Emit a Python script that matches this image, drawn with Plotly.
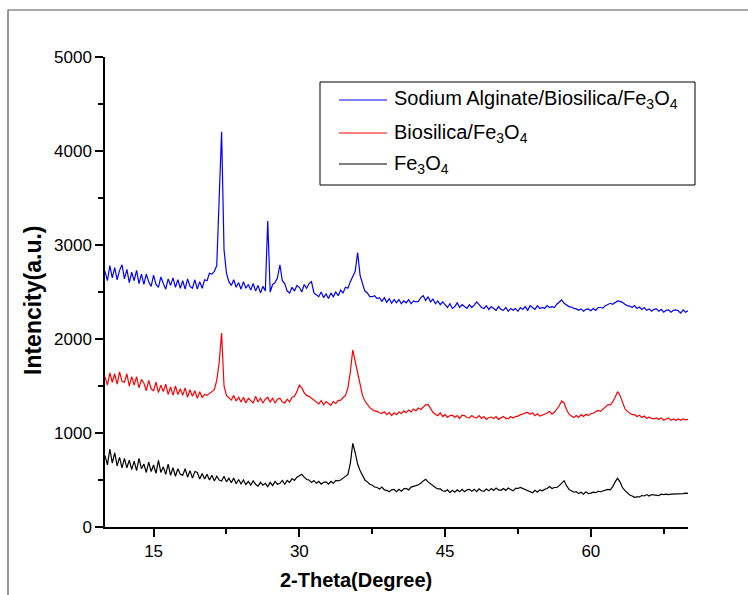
import numpy as np
import plotly.graph_objects as go

# 2-theta sampling grid (degrees), 0.25 deg steps from 10 to 70
two_theta = np.round(np.arange(10.0, 70.0001, 0.25), 2)

# Sodium Alginate/Biosilica/Fe3O4 (counts), four values per degree
alginate_biosilica_fe3o4 = [
    2720, 2620, 2780, 2650,  2760, 2630, 2730, 2790,  2640, 2740, 2600, 2710,
    2620, 2730, 2590, 2690,  2580, 2690, 2610, 2560,  2680, 2580, 2550, 2660,
    2590, 2530, 2640, 2570,  2650, 2550, 2630, 2540,  2620, 2530, 2640, 2560,
    2540, 2630, 2530, 2610,  2540, 2630, 2620, 2700,  2690, 2720, 2780, 3400,
    4205, 2950, 2700, 2610,  2570, 2630, 2550, 2600,  2530, 2610, 2540, 2580,
    2520, 2590, 2510, 2570,  2490, 2560, 2510, 3255,  2500, 2580, 2600, 2650,
    2790, 2620, 2590, 2510,  2490, 2550, 2510, 2570,  2550, 2500, 2580, 2540,
    2590, 2610, 2490, 2470,  2450, 2500, 2440, 2480,  2430, 2490, 2450, 2500,
    2460, 2520, 2490, 2550,  2540, 2610, 2660, 2720,  2920, 2680, 2590, 2510,
    2490, 2450, 2450, 2460,  2430, 2440, 2400, 2440,  2390, 2430, 2380, 2420,
    2385, 2420, 2375, 2405,  2385, 2420, 2375, 2405,  2395, 2400, 2440, 2460,
    2410, 2450, 2395, 2425,  2375, 2405, 2365, 2395,  2365, 2335, 2375, 2325,
    2345, 2385, 2335, 2365,  2345, 2325, 2365, 2335,  2360, 2395, 2365, 2335,
    2325, 2355, 2315, 2345,  2325, 2305, 2345, 2315,  2305, 2335, 2295, 2325,
    2305, 2325, 2295, 2335,  2315, 2345, 2305, 2355,  2335, 2315, 2355, 2325,
    2335, 2325, 2355, 2335,  2345, 2335, 2370, 2390,  2415, 2380, 2360, 2345,
    2340, 2325, 2320, 2305,  2320, 2295, 2315, 2320,  2300, 2325, 2305, 2335,
    2335, 2330, 2355, 2370,  2380, 2370, 2390, 2405,  2400, 2390, 2370, 2355,
    2350, 2335, 2355, 2325,  2340, 2315, 2335, 2305,  2320, 2295, 2315, 2320,
    2295, 2315, 2285, 2305,  2310, 2285, 2305, 2310,  2300, 2275, 2310, 2285,
    2300,
]

# Biosilica/Fe3O4 (counts)
biosilica_fe3o4 = [
    1600, 1510, 1640, 1540,  1630, 1520, 1650, 1550,  1540, 1630, 1500, 1600,
    1510, 1600, 1480, 1570,  1530, 1450, 1560, 1470,  1450, 1540, 1430, 1510,
    1440, 1520, 1410, 1490,  1400, 1500, 1410, 1470,  1400, 1480, 1380, 1460,
    1390, 1450, 1370, 1440,  1380, 1410, 1400, 1420,  1430, 1460, 1560, 1750,
    2063, 1500, 1400, 1370,  1350, 1400, 1340, 1380,  1330, 1380, 1320, 1370,
    1340, 1320, 1390, 1330,  1370, 1320, 1360, 1380,  1330, 1370, 1320, 1360,
    1370, 1330, 1320, 1360,  1330, 1380, 1390, 1440,  1510, 1480, 1430, 1400,
    1390, 1370, 1350, 1320,  1310, 1345, 1300, 1335,  1315, 1295, 1335, 1315,
    1345, 1350, 1375, 1400,  1480, 1650, 1883, 1760,  1620, 1500, 1400, 1340,
    1300, 1270, 1250, 1235,  1230, 1215, 1210, 1225,  1195, 1220, 1185, 1215,
    1195, 1225, 1205, 1235,  1215, 1245, 1225, 1255,  1235, 1265, 1250, 1280,
    1300, 1305, 1260, 1220,  1200, 1185, 1215, 1175,  1195, 1165, 1185, 1190,
    1165, 1185, 1155, 1190,  1185, 1165, 1160, 1185,  1165, 1160, 1185, 1155,
    1175, 1145, 1165, 1170,  1155, 1175, 1145, 1165,  1175, 1155, 1150, 1175,
    1160, 1175, 1180, 1195,  1200, 1215, 1220, 1200,  1215, 1185, 1205, 1180,
    1190, 1205, 1210, 1230,  1200, 1220, 1250, 1290,  1340, 1320, 1250, 1200,
    1180, 1165, 1185, 1165,  1195, 1175, 1200, 1185,  1205, 1210, 1225, 1240,
    1230, 1255, 1270, 1300,  1300, 1330, 1380, 1440,  1400, 1320, 1260, 1230,
    1210, 1195, 1195, 1175,  1190, 1165, 1180, 1155,  1170, 1155, 1150, 1160,
    1145, 1160, 1135, 1150,  1160, 1135, 1150, 1135,  1150, 1135, 1150, 1140,
    1145,
]

# Fe3O4 (counts)
fe3o4 = [
    760, 660, 830, 680,  790, 650, 740, 630,  730, 630, 710, 610,
    700, 600, 730, 620,  670, 580, 690, 590,  660, 570, 710, 580,
    640, 560, 670, 550,  630, 540, 620, 560,  550, 620, 530, 600,
    520, 590, 580, 510,  570, 510, 560, 500,  550, 490, 540, 500,
    490, 540, 480, 520,  470, 520, 460, 505,  460, 500, 450, 485,
    445, 490, 455, 435,  475, 445, 465, 430,  475, 440, 485, 455,
    465, 495, 455, 495,  475, 515, 495, 530,  545, 560, 530, 505,
    500, 475, 495, 465,  485, 455, 475, 480,  455, 485, 465, 495,
    490, 500, 520, 540,  560, 680, 890, 790,  670, 600, 550, 500,
    480, 455, 445, 425,  420, 405, 425, 395,  390, 375, 395, 400,
    375, 400, 380, 405,  410, 395, 425, 430,  440, 450, 465, 490,
    507, 480, 460, 430,  420, 405, 405, 385,  380, 395, 365, 390,
    370, 395, 375, 400,  375, 395, 400, 380,  400, 375, 405, 385,
    380, 405, 385, 410,  390, 415, 395, 390,  410, 390, 415, 400,
    385, 410, 410, 420,  410, 395, 390, 375,  365, 390, 370, 395,
    385, 400, 410, 430,  410, 420, 420, 440,  470, 493, 440, 400,
    385, 370, 375, 355,  370, 350, 375, 355,  360, 370, 365, 380,
    375, 385, 390, 400,  395, 430, 480, 518,  480, 420, 390, 360,
    340, 330, 315, 320,  320, 335, 330, 345,  330, 345, 340, 340,
    335, 350, 345, 350,  345, 350, 350, 355,  350, 355, 355, 360,
    358,
]

series_names = [
    "Sodium Alginate/Biosilica/Fe<sub>3</sub>O<sub>4</sub>",
    "Biosilica/Fe<sub>3</sub>O<sub>4</sub>",
    "Fe<sub>3</sub>O<sub>4</sub>",
]
series_values = [alginate_biosilica_fe3o4, biosilica_fe3o4, fe3o4]
series_colors = ["#0000ff", "#ff0000", "#000000"]

x_ticks = [15, 30, 45, 60]
y_ticks = [0, 1000, 2000, 3000, 4000, 5000]

# ---- page geometry (pixels) ----
W, H = 748, 595
ML, MR, MT, MB = 105, 60, 57, 68
PW, PH = W - ML - MR, H - MT - MB


def px(xp):
    return (xp - ML) / PW


def py(yp):
    return (H - MB - yp) / PH


FONT = "Arial, Liberation Sans, Helvetica, sans-serif"

fig = go.Figure()
for name, vals, col in zip(series_names, series_values, series_colors):
    fig.add_trace(go.Scatter(
        x=two_theta, y=vals, mode="lines", name=name,
        line=dict(color=col, width=1.2), showlegend=False,
    ))

axis_common = dict(
    showline=True, linecolor="black", linewidth=1.5, mirror=False,
    ticks="outside", tickcolor="black", tickwidth=1.5, ticklen=8,
    showgrid=False, zeroline=False,
    tickfont=dict(family=FONT, size=17, color="black"),
)

fig.update_xaxes(
    range=[10, 70], tickvals=x_ticks,
    minor=dict(ticks="outside", ticklen=5, tickwidth=1.5, tickcolor="black",
               tick0=7.5, dtick=7.5),
    **axis_common,
)
fig.update_yaxes(
    range=[0, 5000], tickvals=y_ticks,
    minor=dict(ticks="outside", ticklen=5, tickwidth=1.5, tickcolor="black",
               tick0=0, dtick=500),
    **axis_common,
)

shapes = []
annotations = []

# outer frame of the figure
shapes.append(dict(type="rect", xref="paper", yref="paper",
                   x0=px(8), x1=px(770), y0=py(620), y1=py(10),
                   line=dict(color="#555555", width=1.2)))

# legend box
shapes.append(dict(type="rect", xref="paper", yref="paper",
                   x0=px(320), x1=px(695), y0=py(185), y1=py(82),
                   line=dict(color="black", width=1), fillcolor="white"))
row_y = [100, 133, 164]
for name, col, yy in zip(series_names, series_colors, row_y):
    shapes.append(dict(type="line", xref="paper", yref="paper",
                       x0=px(339), x1=px(387), y0=py(yy), y1=py(yy),
                       line=dict(color=col, width=1)))
    annotations.append(dict(xref="paper", yref="paper", x=px(392), y=py(yy),
                            xanchor="left", yanchor="middle", showarrow=False,
                            text=name,
                            font=dict(family=FONT, size=20, color="black")))

# axis titles
annotations.append(dict(xref="paper", yref="paper", x=px(356), y=py(580),
                        xanchor="center", yanchor="middle", showarrow=False,
                        text="<b>2-Theta(Degree)</b>",
                        font=dict(family=FONT, size=20, color="black")))
annotations.append(dict(xref="paper", yref="paper", x=px(33), y=py(300),
                        xanchor="center", yanchor="middle", showarrow=False,
                        textangle=-90, text="<b>Intencity(a.u.)</b>",
                        font=dict(family=FONT, size=23, color="black")))

fig.update_layout(
    width=W, height=H,
    margin=dict(l=ML, r=MR, t=MT, b=MB, pad=0),
    paper_bgcolor="white", plot_bgcolor="white",
    shapes=shapes, annotations=annotations,
    showlegend=False,
)

fig.write_html("out.html")
